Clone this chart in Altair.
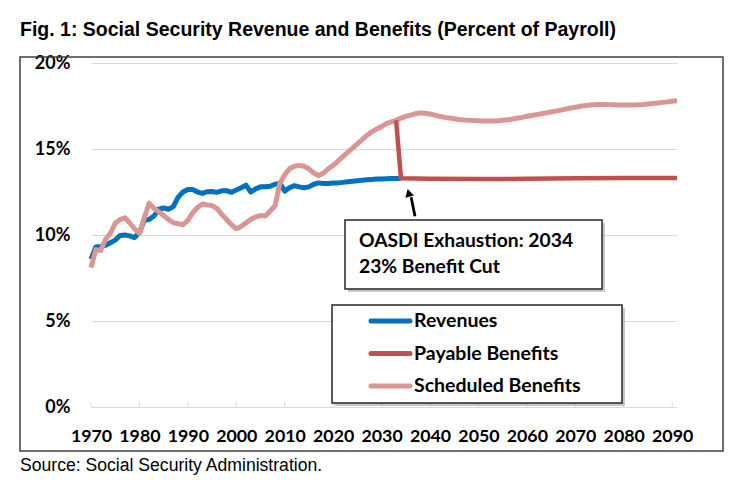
import altair as alt
import pandas as pd

# ---------------- data ----------------
rev_years = list(range(1970, 2035))
rev_values = [8.6, 9.3, 9.33, 9.4, 9.55, 9.7, 9.97, 10.0, 9.95, 9.85,
              10.15, 10.85, 10.9, 11.1, 11.5, 11.57, 11.5, 11.65, 12.2, 12.5,
              12.65, 12.65, 12.5, 12.42, 12.52, 12.53, 12.48, 12.57, 12.58, 12.48,
              12.62, 12.75, 12.9, 12.5, 12.68, 12.8, 12.8, 12.83, 12.95, 13.0,
              12.55, 12.75, 12.87, 12.8, 12.75, 12.8, 12.95, 13.03, 13.0, 13.0,
              13.02, 13.03, 13.06, 13.1, 13.13, 13.16, 13.19, 13.21, 13.23, 13.25,
              13.26, 13.27, 13.28, 13.29, 13.3]

sched_years = list(range(1970, 2092))
sched_values = [8.1, 9.15, 9.1, 9.74, 10.1, 10.68, 10.9, 11.0, 10.7, 10.35,
                10.1, 11.0, 11.85, 11.55, 11.35, 11.13, 10.9, 10.71, 10.65, 10.6,
                10.85, 11.3, 11.6, 11.8, 11.75, 11.71, 11.55, 11.2, 10.9, 10.6,
                10.36, 10.5, 10.7, 10.92, 11.05, 11.13, 11.1, 11.4, 11.7, 13.0,
                13.5, 13.85, 14.0, 14.05, 14.0, 13.85, 13.6, 13.45, 13.6, 13.85,
                14.05, 14.3, 14.55, 14.8, 15.05, 15.3, 15.55, 15.8, 16.0, 16.17,
                16.3, 16.48, 16.58, 16.67, 16.8, 16.9, 16.97, 17.05, 17.1, 17.08,
                17.04, 16.97, 16.9, 16.84, 16.8, 16.76, 16.72, 16.69, 16.67, 16.65,
                16.64, 16.63, 16.63, 16.63, 16.64, 16.67, 16.7, 16.74, 16.79, 16.84,
                16.9, 16.95, 17.0, 17.05, 17.1, 17.15, 17.2, 17.26, 17.32, 17.38,
                17.43, 17.48, 17.52, 17.56, 17.58, 17.59, 17.59, 17.58, 17.57, 17.56,
                17.56, 17.56, 17.56, 17.57, 17.59, 17.62, 17.65, 17.68, 17.71, 17.74,
                17.77, 17.8]

pay_years = [2033, 2034, 2040, 2050, 2060, 2070, 2080, 2091]
pay_values = [16.67, 13.3, 13.27, 13.25, 13.27, 13.3, 13.31, 13.32]

series_names = ["Revenues", "Payable Benefits", "Scheduled Benefits"]
series_colors = ["#0070C0", "#C0504D", "#D99694"]

x_ticks = [1970, 1980, 1990, 2000, 2010, 2020, 2030, 2040, 2050, 2060, 2070, 2080, 2090]
y_ticks = [0, 5, 10, 15, 20]

title_text = "Fig. 1: Social Security Revenue and Benefits (Percent of Payroll)"
source_text = "Source: Social Security Administration."
note_lines = ["OASDI Exhaustion: 2034", "23% Benefit Cut"]

# arrow in data coordinates (tail -> tip)
arrow_tail = (2036.9, 11.09)
arrow_base = (2036.1, 12.2)
arrow_head = (2035.6, 12.45)

# ---------------- layout ----------------
W, H = 586, 344
FONT = "Lato"
GRID = "#d9d9d9"

df = pd.concat([
    pd.DataFrame({"year": rev_years, "value": rev_values, "series": series_names[0]}),
    pd.DataFrame({"year": pay_years, "value": pay_values, "series": series_names[1]}),
    pd.DataFrame({"year": sched_years, "value": sched_values, "series": series_names[2]}),
], ignore_index=True)

one = pd.DataFrame({"k": [0]})

xs = alt.Scale(domain=[1970, 2091], nice=False, zero=False)
ys = alt.Scale(domain=[0, 20], nice=False)

x_axis = alt.Axis(values=x_ticks, format="d", grid=False, domain=True,
                  domainColor=GRID, domainWidth=1, ticks=False, tickSize=0,
                  labelPadding=20, labelFont=FONT, labelFontWeight="bold",
                  labelFontSize=17.8, labelColor="black", labelFlush=False,
                  labelOverlap=False, title=None)
y_axis = alt.Axis(values=y_ticks, labelExpr="datum.value + '%'", grid=True,
                  gridColor=GRID, gridWidth=1, domain=False, ticks=False,
                  tickSize=0, labelPadding=21, labelFont=FONT,
                  labelFontWeight="bold", labelFontSize=18, labelColor="black",
                  title=None)


def X(field):
    return alt.X(field, type="quantitative", scale=xs, axis=x_axis)


def Y(field):
    return alt.Y(field, type="quantitative", scale=ys, axis=y_axis)


def rect_layer(x1, x2, y1, y2, fill, stroke=None, sw=0, opacity=1.0):
    kw = dict(fill=fill, opacity=opacity)
    if stroke:
        kw.update(stroke=stroke, strokeWidth=sw)
    return alt.Chart(one).mark_rect(**kw).encode(
        x=alt.value(x1), x2=alt.value(x2), y=alt.value(y1), y2=alt.value(y2))


def text_layer(txt, x, y, size, font=FONT, weight="bold", align="left"):
    return alt.Chart(one).mark_text(
        text=txt, font=font, fontSize=size, fontWeight=weight, align=align,
        baseline="middle", color="black").encode(x=alt.value(x), y=alt.value(y))


def line_layer(i, width):
    return alt.Chart(df).transform_filter(
        alt.datum.series == series_names[i]
    ).mark_line(color=series_colors[i], strokeWidth=width, strokeJoin="round",
                strokeCap="butt").encode(x=X("year"), y=Y("value"))


layers = []
# series lines (first so that the axes come from here)
layers.append(line_layer(0, 5))
layers.append(line_layer(2, 5))
layers.append(line_layer(1, 4.5))
# outer frame
layers.append(rect_layer(-71, 632, -6, 388, "transparent", "#404040", 1.5))
# small upward ticks on the 0% line
tick_df = pd.DataFrame({"year": x_ticks})
layers.append(alt.Chart(tick_df).mark_rule(color=GRID, strokeWidth=1).encode(
    x=X("year"), y=alt.value(H - 5), y2=alt.value(H)))

# annotation box with shadow
layers.append(rect_layer(257, 514, 160, 229, "#9a9a9a", opacity=0.55))
layers.append(rect_layer(254, 511, 157, 226, "white", "#262626", 1.5))
layers.append(text_layer(note_lines[0], 268, 178, 19.3))
layers.append(text_layer(note_lines[1], 268, 204, 19.3))

# arrow
arrow_df = pd.DataFrame({"x": [arrow_tail[0]], "y": [arrow_tail[1]],
                         "x2": [arrow_base[0]], "y2": [arrow_base[1]]})
layers.append(alt.Chart(arrow_df).mark_rule(color="black", strokeWidth=2.8).encode(
    x=X("x"), y=Y("y"), x2="x2:Q", y2="y2:Q"))
head_df = pd.DataFrame({"x": [arrow_head[0]], "y": [arrow_head[1]]})
layers.append(alt.Chart(head_df).mark_point(
    shape="triangle-up", filled=True, color="black", size=80, angle=345, opacity=1
).encode(x=X("x"), y=Y("y")))

# legend box with shadow
layers.append(rect_layer(244, 534, 245, 343, "#9a9a9a", opacity=0.55))
layers.append(rect_layer(241, 531, 242, 340, "white", "#262626", 1.5))
for i, (name, col) in enumerate(zip(series_names, series_colors)):
    yy = 258 + i * 32.5
    layers.append(alt.Chart(one).mark_rule(color=col, strokeWidth=5, strokeCap="round").encode(
        x=alt.value(280), x2=alt.value(319), y=alt.value(yy)))
    layers.append(text_layer(name, 323, yy, 19.5))

# title and source
layers.append(text_layer(title_text, -71, -33, 19.5, font="Liberation Sans Narrow, Liberation Sans"))
layers.append(text_layer(source_text, -71, 403, 17.6, font="Liberation Sans", weight="normal"))

chart = alt.layer(*layers).properties(
    width=W, height=H,
    autosize=alt.AutoSizeParams(type="none"),
    padding={"left": 83, "top": 55, "right": 55, "bottom": 76},
    background="white",
).configure_view(strokeWidth=0)

chart.save("out.html", embed_options={"renderer": "svg", "actions": False})
